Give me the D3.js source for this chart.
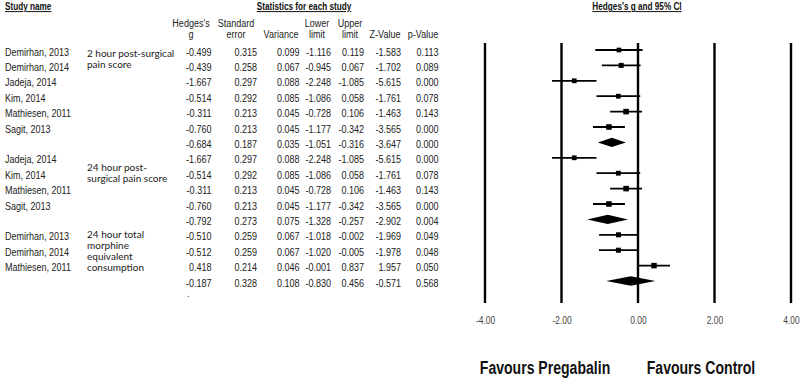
<!DOCTYPE html>
<html>
<head>
<meta charset="utf-8">
<script src="https://cdn.jsdelivr.net/npm/d3@7"></script>
<style>
  body { margin: 0; background: #fff; }
  svg { display: block; }
  text { font-family: "Liberation Sans", Arial, sans-serif; }
  .head { font-weight: bold; font-size: 10px; text-decoration: underline; fill: #111; }
  .colhead { font-size: 11px; fill: #222; }
  .cell { font-size: 11px; fill: #222; }
  .subgroup { font-family: Lato, "Open Sans", sans-serif; font-size: 10px; fill: #222; }
  .tick text { font-family: "Liberation Sans", Arial, sans-serif; font-size: 10.5px; fill: #444; }
  .favours { font-weight: bold; font-size: 18.5px; fill: #111; }
</style>
</head>
<body>
<div id="chart"></div>
<script>
// forest plot - pregabalin vs control

var studyNames = ["Demirhan, 2013", "Demirhan, 2014", "Jadeja, 2014", "Kim, 2014", "Mathiesen, 2011", "Sagit, 2013", "",
                  "Jadeja, 2014", "Kim, 2014", "Mathiesen, 2011", "Sagit, 2013", "",
                  "Demirhan, 2013", "Demirhan, 2014", "Mathiesen, 2011", ""];
var isSummary = [0, 0, 0, 0, 0, 0, 1, 0, 0, 0, 0, 1, 0, 0, 0, 1];
var hedgesG   = [-0.499, -0.439, -1.667, -0.514, -0.311, -0.760, -0.684, -1.667, -0.514, -0.311, -0.760, -0.792, -0.510, -0.512, 0.418, -0.187];
var stdErr    = [0.315, 0.258, 0.297, 0.292, 0.213, 0.213, 0.187, 0.297, 0.292, 0.213, 0.213, 0.273, 0.259, 0.259, 0.214, 0.328];
var variance  = [0.099, 0.067, 0.088, 0.085, 0.045, 0.045, 0.035, 0.088, 0.085, 0.045, 0.045, 0.075, 0.067, 0.067, 0.046, 0.108];
var lowerLim  = [-1.116, -0.945, -2.248, -1.086, -0.728, -1.177, -1.051, -2.248, -1.086, -0.728, -1.177, -1.328, -1.018, -1.020, -0.001, -0.830];
var upperLim  = [0.119, 0.067, -1.085, 0.058, 0.106, -0.342, -0.316, -1.085, 0.058, 0.106, -0.342, -0.257, -0.002, -0.005, 0.837, 0.456];
var zValue    = [-1.583, -1.702, -5.615, -1.761, -1.463, -3.565, -3.647, -5.615, -1.761, -1.463, -3.565, -2.902, -1.969, -1.978, 1.957, -0.571];
var pValue    = [0.113, 0.089, 0.000, 0.078, 0.143, 0.000, 0.000, 0.000, 0.078, 0.143, 0.000, 0.004, 0.049, 0.048, 0.050, 0.568];

var subgroupLabels = [["2 hour post-surgical", "pain score"],
                      ["24 hour post-", "surgical pain score"],
                      ["24 hour total", "morphine", "equivalent", "consumption"]];
var axisTicks = [-4, -2, 0, 2, 4];

var width = 800, height = 379;
var squeeze = 0.82;   // original uses a narrow face, squeeze Arial to fit

var svg = d3.select("#chart").append("svg")
    .attr("width", width)
    .attr("height", height);

svg.append("rect").attr("width", width).attr("height", height).attr("fill", "#fff");

// text helper, condensed horizontally around its anchor point
function label(cls, px, py, str, anchor, sx) {
    return svg.append("text")
        .attr("class", cls)
        .attr("transform", "translate(" + px + "," + py + ") scale(" + (sx || squeeze) + ",1)")
        .attr("text-anchor", anchor || "start")
        .text(str);
}

var fmt3 = function(v) { return d3.format(".3f")(v).replace("−", "-"); };

/*** SCALES */
var rows = d3.range(studyNames.length);
var y = d3.scaleLinear().domain([0, rows.length - 1]).range([50, 281]);
var x = d3.scaleLinear().domain([-4, 4]).range([485, 791]);
var boxSize = d3.scaleLinear()
    .domain([d3.min(variance, function(v) { return 1 / v; }), d3.max(variance, function(v) { return 1 / v; })])
    .range([4.6, 6]);

/*** HEADERS */
label("head", 5, 10, "Study name");
label("head", 304, 10, "Statistics for each study", "middle");
label("head", 637, 10, "Hedges's g and 95% CI", "middle");

// columns: header lines, center for header, right edge for numbers
var columns = [
    {head: ["Hedges's", "g"], mid: 191, right: 211.5, values: hedgesG},
    {head: ["Standard", "error"], mid: 236, right: 257, values: stdErr},
    {head: ["Variance"], mid: 281, right: 299.5, values: variance},
    {head: ["Lower", "limit"], mid: 317, right: 331, values: lowerLim},
    {head: ["Upper", "limit"], mid: 350, right: 364, values: upperLim},
    {head: ["Z-Value"], mid: 385, right: 401, values: zValue},
    {head: ["p-Value"], mid: 423, right: 438.5, values: pValue}
];

columns.forEach(function(col) {
    col.head.forEach(function(line, i) {
        var base = col.head.length == 2 ? 27 + i * 10.5 : 37.5;
        label("colhead", col.mid, base, line, "middle");
    });

    rows.forEach(function(i) {
        label("cell", col.right, y(i) + 5.5, fmt3(col.values[i]), "end");
    });
});

rows.forEach(function(i) {
    if (studyNames[i] != "") label("cell", 5, y(i) + 5.5, studyNames[i]);
});

// stray dot under the last summary row
label("cell", 187, y(16.05), ".");

/*** SUBGROUP LABELS */
var subgroupTop = [0.2, 7.6, 12.0];
subgroupLabels.forEach(function(lines, g) {
    lines.forEach(function(line, i) {
        label("subgroup", 87, y(subgroupTop[g]) + 3.5 + i * 11, line, "start", 1);
    });
});

/*** FOREST PLOT */
svg.selectAll(".grid")
    .data(axisTicks)
    .enter()
    .append("line")
    .attr("class", "grid")
    .attr("x1", function(d) { return x(d); })
    .attr("x2", function(d) { return x(d); })
    .attr("y1", 43)
    .attr("y2", 303)
    .attr("stroke", "#000")
    .attr("stroke-width", 2.4);

var axis = d3.axisBottom(x)
    .tickValues(axisTicks)
    .tickSize(0)
    .tickPadding(0)
    .tickFormat(function(d) { return d3.format(".2f")(d).replace("−", "-"); });

var gAxis = svg.append("g")
    .attr("transform", "translate(0,316.5)")
    .call(axis);
gAxis.select(".domain").remove();
gAxis.selectAll(".tick text").attr("transform", "scale(0.8,1)");

var studyRows = rows.filter(function(i) { return !isSummary[i]; });
var summaryRows = rows.filter(function(i) { return isSummary[i]; });

svg.selectAll(".ci")
    .data(studyRows)
    .enter()
    .append("line")
    .attr("class", "ci")
    .attr("x1", function(i) { return x(lowerLim[i]); })
    .attr("x2", function(i) { return x(upperLim[i]); })
    .attr("y1", function(i) { return y(i); })
    .attr("y2", function(i) { return y(i); })
    .attr("stroke", "#000")
    .attr("stroke-width", 1.8);

svg.selectAll(".box")
    .data(studyRows)
    .enter()
    .append("rect")
    .attr("class", "box")
    .attr("x", function(i) { return x(hedgesG[i]) - boxSize(1 / variance[i]) / 2; })
    .attr("y", function(i) { return y(i) - boxSize(1 / variance[i]) / 2; })
    .attr("width", function(i) { return boxSize(1 / variance[i]); })
    .attr("height", function(i) { return boxSize(1 / variance[i]); })
    .attr("fill", "#000");

svg.selectAll(".diamond")
    .data(summaryRows)
    .enter()
    .append("path")
    .attr("class", "diamond")
    .attr("d", function(i) {
        var cy = y(i), h = 4.7;
        return "M" + x(lowerLim[i]) + "," + cy +
            "L" + x(hedgesG[i]) + "," + (cy - h) +
            "L" + x(upperLim[i]) + "," + cy +
            "L" + x(hedgesG[i]) + "," + (cy + h) + "Z";
    })
    .attr("fill", "#000");

/*** FAVOURS LABELS */
label("favours", 545, 374, "Favours Pregabalin", "middle", 0.76);
label("favours", 701, 374, "Favours Control", "middle", 0.76);
</script>
</body>
</html>
